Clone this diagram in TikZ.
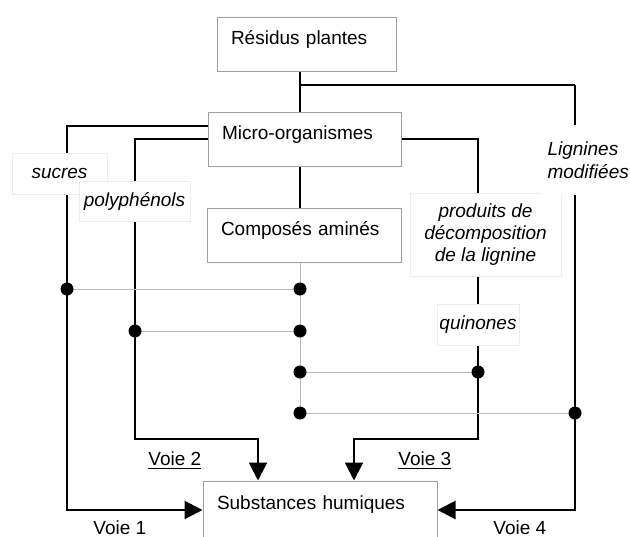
\documentclass[tikz,border=0pt]{standalone}
\usepackage{fontspec}
\setmainfont{Liberation Sans}
\usetikzlibrary{arrows.meta,backgrounds}
\tikzset{
	boite/.style={draw=gray!75, fill=white, line width=.5pt, inner xsep=7pt, inner ysep=0pt,
		text height=13.5pt, text depth=13.5pt, align=left},
	etiq/.style={draw=gray!15, fill=white, line width=.5pt, inner sep=0pt, align=center,
		font=\fontsize{9.5}{11}\itshape\selectfont},
	voie/.style={line width=1.1pt},
	fleche/.style={voie, -{Triangle[length=9pt,width=9pt]}},
	fin/.style={draw=gray!55, line width=.5pt},
	jonction/.style={circle, fill=black, inner sep=0pt, minimum size=6.5pt},
	nomvoie/.style={anchor=base west, inner sep=0pt}
}
\begin{document}
\begin{tikzpicture}[x=.5pt, y=-.5pt, font=\fontsize{9.5}{11}\selectfont]
\useasboundingbox (0,0) rectangle (630,536);
\node[boite, text width=75.5pt] (res) at (306.5,44) {Résidus plantes};
\node[boite, text width=82.5pt] (mic) at (304.5,139) {Micro-organismes};
\node[boite, text width=83pt] (com) at (304,235) {Composés aminés};
\node[boite, text width=103pt, text height=14pt, text depth=15pt, anchor=base] (sub) at (320,509) {Substances humiques};
\node[etiq, minimum width=47.5pt, minimum height=20.5pt] (suc) at (59.5,173.5) {sucres};
\node[etiq, minimum width=55.5pt, minimum height=20pt] (pol) at (134.5,201) {polyphénols};
\node[etiq, minimum width=75.5pt, minimum height=41.5pt] (pro) at (485.5,234.5) {produits de\\décomposition\\de la lignine};
\node[etiq, minimum width=41pt, minimum height=20.5pt] (qui) at (478,324.5) {quinones};
\node[etiq, draw=none, anchor=west, inner xsep=3.5pt, minimum height=35pt, align=left,
	font=\fontsize{9.5}{11.5}\itshape\selectfont] (lig) at (540,160) {Lignines\\modifiées};
\node[nomvoie] (n1) at (93,534) {\underline{Voie 1}};
\node[nomvoie] (n2) at (148,465) {\underline{Voie 2}};
\node[nomvoie] (n3) at (398,465) {\underline{Voie 3}};
\node[nomvoie] (n4) at (493,534) {\underline{Voie 4}};
\coordinate (tronc) at (300,85);
\coordinate (v1) at (67,126);
\coordinate (v2) at (135,139);
\coordinate (v3) at (478,139);
\coordinate (v4) at (575,85);
\coordinate (h2) at (258,439);
\coordinate (h3) at (354,439);
\coordinate (j1) at (67,289);
\coordinate (k1) at (300,289);
\coordinate (j2) at (135,331);
\coordinate (k2) at (300,331);
\coordinate (k3) at (300,372);
\coordinate (j3) at (478,372);
\coordinate (k4) at (300,413);
\coordinate (j4) at (575,413);
\begin{scope}[on background layer]
\draw[voie] (res.south -| tronc) -- (mic.north -| tronc);
\draw[voie] (mic.south -| tronc) -- (com.north -| tronc);
\draw[voie] (tronc) -- (v4);
\draw[fleche] (v4) |- (sub.east);
\draw[fleche] (mic.west |- v1) -- (v1) |- (sub.west);
\draw[fleche] (mic.west) -- (v2) |- (h2) -- (h2 |- sub.north);
\draw[fleche] (mic.east) -- (v3) |- (h3) -- (h3 |- sub.north);
\draw[fin] (com.south -| tronc) -- (k4);
\draw[fin] (j1) -- (k1);
\draw[fin] (j2) -- (k2);
\draw[fin] (k3) -- (j3);
\draw[fin] (k4) -- (j4);
\end{scope}
\foreach \p in {j1,k1,j2,k2,k3,j3,k4,j4}
	\node[jonction] (d\p) at (\p) {};
\end{tikzpicture}
\end{document}
